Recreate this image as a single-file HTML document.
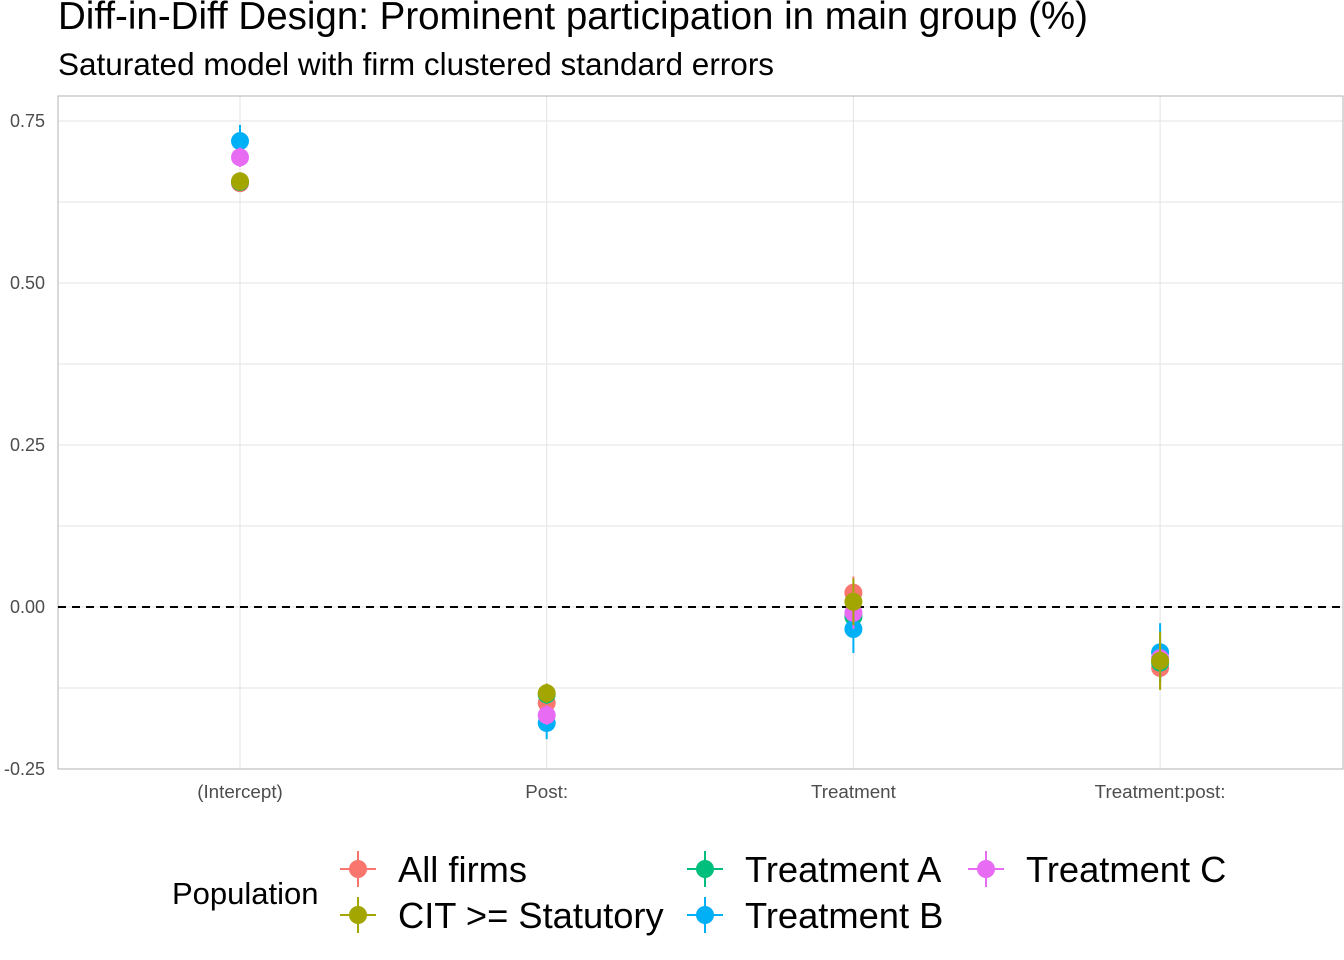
<!DOCTYPE html>
<html><head><meta charset="utf-8"><style>
body{margin:0;background:#fff;font-family:"Liberation Sans",Arial,sans-serif}
svg{display:block}
</style></head><body>
<svg id="chart" width="1344" height="960" xmlns="http://www.w3.org/2000/svg" font-family="Liberation Sans, Arial, sans-serif">
<text x="58" y="29" font-size="38.5" fill="#000">Diff-in-Diff Design: Prominent participation in main group (%)</text>
<text x="58" y="75" font-size="31.5" fill="#000">Saturated model with firm clustered standard errors</text>
<g id="grid"></g>
<rect x="58" y="96" width="1285" height="673" fill="none" stroke="#b3b3b3" stroke-width="1"/>
<g id="marks"></g>
<g id="axes"></g>
<g id="legend"></g>
</svg>
<script>
const categories=["(Intercept)","Post:","Treatment","Treatment:post:"];
const series=["All firms","CIT >= Statutory","Treatment A","Treatment B","Treatment C"];
const colors=["#F8766D","#A3A500","#00BF7D","#00B0F6","#E76BF3"];
const estAll=[0.654,-0.148,0.022,-0.094];
const estCIT=[0.657,-0.133,0.008,-0.083];
const estA=[0.656,-0.135,-0.015,-0.086];
const estB=[0.719,-0.179,-0.034,-0.070];
const estC=[0.694,-0.167,-0.009,-0.079];
const seAll=[0.012,0.015,0.025,0.03];
const seCIT=[0.012,0.015,0.036,0.045];
const seA=[0.012,0.015,0.025,0.03];
const seB=[0.025,0.025,0.037,0.045];
const seC=[0.015,0.015,0.025,0.03];
const yTicks=[-0.25,0,0.25,0.5,0.75];
const yTickLabels=["-0.25","0.00","0.25","0.50","0.75"];
const ests=[estAll,estCIT,estA,estB,estC];
const ses=[seAll,seCIT,seA,seB,seC];
const NS="http://www.w3.org/2000/svg";
const y=v=>607-v*648;
const x=i=>240+i*306.7;
function mk(tag,attrs,parent){const e=document.createElementNS(NS,tag);for(const k in attrs)e.setAttribute(k,attrs[k]);parent.appendChild(e);return e;}
const grid=document.getElementById('grid'),marks=document.getElementById('marks'),axes=document.getElementById('axes'),leg=document.getElementById('legend');
for(let v=-0.25;v<=0.751;v+=0.125){const l=mk('line',{x1:58,x2:1343,y1:y(v),y2:y(v),stroke:'#e3e3e3','stroke-width':1},grid);

}
categories.forEach((c,i)=>{const l=mk('line',{x1:x(i),x2:x(i),y1:96,y2:769,stroke:'#e3e3e3','stroke-width':1},grid);


const t=mk('text',{x:x(i),y:798,'font-size':18.8,'text-anchor':'middle',fill:'#4d4d4d'},axes);t.textContent=c;

});
yTicks.forEach((v,i)=>{const t=mk('text',{x:45,y:y(v)+6,'font-size':18,'text-anchor':'end',fill:'#4d4d4d'},axes);t.textContent=yTickLabels[i];

});
const z=mk('line',{x1:58,x2:1343,y1:y(0),y2:y(0),stroke:'#000','stroke-width':2,'stroke-dasharray':'8,6'},marks);


const order=[0,2,3,4,1];
order.forEach(s=>{categories.forEach((c,i)=>{const e=ests[s][i],se=ses[s][i];
const g=mk('g',{},marks);


mk('line',{x1:x(i),x2:x(i),y1:y(e+se),y2:y(e-se),stroke:colors[s],'stroke-width':2},g);
mk('circle',{cx:x(i),cy:y(e),r:9,fill:colors[s]},g);});});
const t0=mk('text',{x:172,y:904,'font-size':31,fill:'#000'},leg);t0.textContent="Population";


const lpos=[[358,869],[358,915],[705,869],[705,915],[986,869]];
series.forEach((s,i)=>{const [cx,cy]=lpos[i];const g=mk('g',{},leg);


mk('line',{x1:cx-18,x2:cx+18,y1:cy,y2:cy,stroke:colors[i],'stroke-width':2},g);
mk('line',{x1:cx,x2:cx,y1:cy-18,y2:cy+18,stroke:colors[i],'stroke-width':2},g);
mk('circle',{cx:cx,cy:cy,r:9,fill:colors[i]},g);
const t=mk('text',{x:cx+40,y:cy+13,'font-size':36.3,fill:'#000'},g);t.textContent=s;});
</script>
</body></html>
